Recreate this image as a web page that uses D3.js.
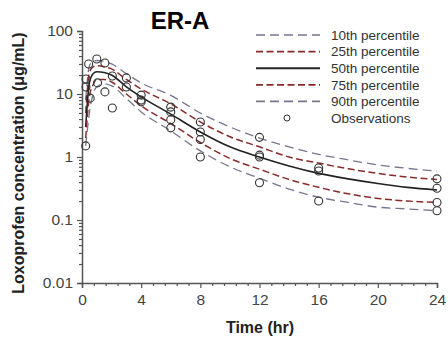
<!DOCTYPE html>
<html>
<head>
<meta charset="utf-8">
<script src="https://cdn.jsdelivr.net/npm/d3@7"></script>
<style>
  body { margin: 0; background: #fff; }
  svg { font-family: Arial, "Liberation Sans", sans-serif; }
</style>
</head>
<body>
<div id="rootDiv"></div>
<script>
// percentile curves (hr, ug/mL)
const times = [0.25, 0.5, 0.75, 1, 1.5, 2, 3, 4, 6, 8, 10, 12, 14, 16, 18, 20, 22, 24]
const p10 = [8, 28, 33, 34, 33, 30, 21, 15, 9.5, 5, 3.0, 2.0, 1.45, 1.1, 0.9, 0.75, 0.66, 0.6]
const p25 = [5, 22, 27, 28, 27, 25, 17, 12, 7, 3.6, 2.1, 1.45, 1.0, 0.8, 0.65, 0.55, 0.48, 0.44]
const p50 = [3, 15, 21, 22.5, 22, 20, 13, 9, 4.8, 2.5, 1.45, 1.0, 0.72, 0.55, 0.45, 0.38, 0.33, 0.30]
const p75 = [2, 9, 14, 17, 17, 15.5, 10, 6.5, 3.4, 1.7, 0.95, 0.64, 0.44, 0.33, 0.26, 0.22, 0.2, 0.19]
const p90 = [1.5, 5, 10, 13, 14.5, 13.5, 8.5, 5.2, 2.6, 1.25, 0.7, 0.46, 0.31, 0.23, 0.19, 0.16, 0.15, 0.14]

// observed concentrations
const obsTime = [0.25, 0.27, 0.27, 0.45, 0.55, 1.0, 1.05, 1.55, 1.55, 2.05, 2.05, 3, 3, 4, 4, 4, 6, 6, 6, 6, 8, 8, 8, 8, 12, 12, 12, 12, 16, 16, 16, 24, 24, 24, 24]
const obsConc = [1.5, 17.3, 12.9, 30, 8.6, 36, 15, 31, 10.8, 19.3, 6.0, 18, 12.9, 9.6, 8.0, 7.5, 6.2, 5.2, 3.9, 2.9, 3.6, 2.5, 1.9, 1.0, 2.05, 1.07, 1.0, 0.39, 0.67, 0.6, 0.2, 0.45, 0.32, 0.19, 0.14]

const xTicks = [0, 4, 8, 12, 16, 20, 24]
const yTicks = [0.01, 0.1, 1, 10, 100]
const yTickLabels = ["0.01", "0.1", "1", "10", "100"]

const legendLabels = ["10th percentile", "25th percentile", "50th percentile", "75th percentile", "90th percentile", "Observations"]

const grayBlue = "#76768e"
const darkRed = "#8a2b2b"
const axisColor = "#555"

const width = 448
const height = 338

const svg = d3.select(document.getElementById("rootDiv"))
    .append("svg")
    .attr("width", width)
    .attr("height", height)

const x = d3.scaleLinear().domain([0, 24]).range([82, 437])
const y = d3.scaleLog().domain([0.01, 100]).range([283, 31])

// minor ticks
const xMinor = d3.range(0, 24.01, 0.8).filter(t => !xTicks.some(m => Math.abs(m - t) < 0.01))
const yMinor = []
for (const dec of [0.01, 0.1, 1, 10]) for (let k = 2; k <= 9; k++) yMinor.push(dec * k)

const xAxisMinor = svg.append("g")
    .attr("transform", `translate(0,${y(0.01)})`)
    .call(d3.axisBottom(x).tickValues(xMinor).tickSize(3).tickFormat(""))
const yAxisMinor = svg.append("g")
    .attr("transform", `translate(${x(0)},0)`)
    .call(d3.axisLeft(y).tickValues(yMinor).tickSize(3).tickFormat(""))

const xAxis = svg.append("g")
    .attr("transform", `translate(0,${y(0.01)})`)
    .call(d3.axisBottom(x).tickValues(xTicks).tickSize(5).tickPadding(6).tickFormat(d => d))
const yAxis = svg.append("g")
    .attr("transform", `translate(${x(0)},0)`)
    .call(d3.axisLeft(y).tickValues(yTicks).tickSize(5).tickPadding(4).tickFormat((d, i) => yTickLabels[i]))

for (const axis of [xAxisMinor, yAxisMinor, xAxis, yAxis]) {
    axis.selectAll("line").style("stroke", axisColor).style("stroke-width", 1.2)
    axis.selectAll("path").style("stroke", axisColor).style("stroke-width", 1.5)
    axis.selectAll("text").style("fill", "#444").style("font-size", "15.5px")
        .style("font-family", "Arial, 'Liberation Sans', sans-serif")
}
xAxisMinor.select("path").remove()
yAxisMinor.select("path").remove()

// curves
const line = d3.line()
    .x(d => x(d[0]))
    .y(d => y(d[1]))
    .curve(d3.curveMonotoneX)

const series = [
    { vals: p10, color: grayBlue, dash: "9,5", w: 1.3 },
    { vals: p25, color: darkRed, dash: "7,3.5", w: 1.5 },
    { vals: p50, color: "#222", dash: null, w: 1.6 },
    { vals: p75, color: darkRed, dash: "7,3.5", w: 1.5 },
    { vals: p90, color: grayBlue, dash: "9,5", w: 1.3 },
]

for (const s of series) {
    svg.append("path")
        .datum(times.map((t, i) => [t, s.vals[i]]))
        .attr("d", line)
        .attr("fill", "none")
        .attr("stroke", s.color)
        .attr("stroke-width", s.w)
        .attr("stroke-dasharray", s.dash)
}

// observations
svg.selectAll("circle.obs")
    .data(obsTime.map((t, i) => [t, obsConc[i]]))
    .enter()
    .append("circle")
    .attr("class", "obs")
    .attr("cx", d => x(d[0]))
    .attr("cy", d => y(d[1]))
    .attr("r", 4)
    .attr("fill", "none")
    .attr("stroke", "#333")
    .attr("stroke-width", 1.1)

// legend
const legend = svg.append("g")
const rowY = d3.scaleLinear().domain([0, 5]).range([35, 118])
series.forEach((s, i) => {
    legend.append("line")
        .attr("x1", 256).attr("x2", 320)
        .attr("y1", rowY(i)).attr("y2", rowY(i))
        .attr("stroke", s.color)
        .attr("stroke-width", s.w + 0.3)
        .attr("stroke-dasharray", s.dash)
})
legend.append("circle")
    .attr("cx", 287).attr("cy", rowY(5))
    .attr("r", 3)
    .attr("fill", "none")
    .attr("stroke", "#333")
legend.selectAll("text")
    .data(legendLabels)
    .enter()
    .append("text")
    .attr("x", 331)
    .attr("y", (_d, i) => rowY(i))
    .attr("dy", "0.35em")
    .attr("fill", "#333")
    .style("font-size", "13.5px")
    .text(d => d)

// titles
svg.append("text")
    .attr("x", 180)
    .attr("y", 29)
    .attr("text-anchor", "middle")
    .style("font-size", "24px")
    .style("font-weight", "bold")
    .attr("fill", "#000")
    .text("ER-A")

svg.append("text")
    .attr("x", 260)
    .attr("y", 333)
    .attr("text-anchor", "middle")
    .style("font-size", "16px")
    .style("font-weight", "bold")
    .attr("fill", "#222")
    .text("Time (hr)")

svg.append("text")
    .attr("transform", "translate(24,163) rotate(-90)")
    .attr("text-anchor", "middle")
    .style("font-size", "16px")
    .style("font-weight", "bold")
    .attr("fill", "#222")
    .text("Loxoprofen concentration (\u03bcg/mL)")
</script>
</body>
</html>
